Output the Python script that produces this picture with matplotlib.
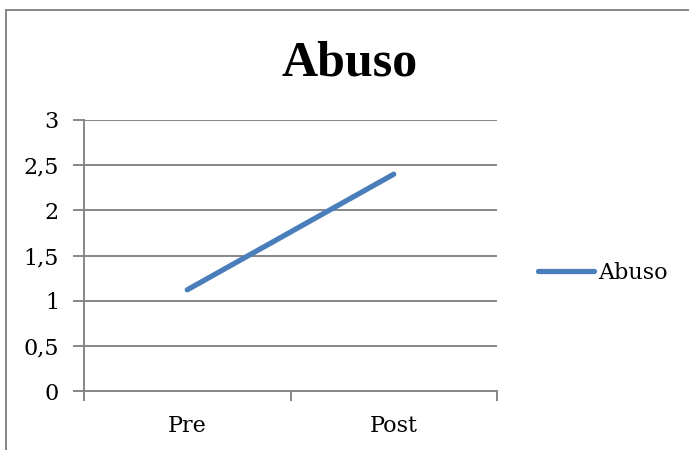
import matplotlib
matplotlib.use("Agg")
import matplotlib.pyplot as plt
from matplotlib.lines import Line2D
from matplotlib.ticker import FixedLocator, FuncFormatter

categories = ["Pre", "Post"]
values = [1.12, 2.40]
series_name = "Abuso"
title = "Abuso"
y_ticks = [0, 0.5, 1, 1.5, 2, 2.5, 3]

W, H = 689, 450
fig = plt.figure(figsize=(W / 100, H / 100), dpi=100)
fig.patch.set_facecolor("white")

grid_c = "#878787"
line_c = "#4A7EBB"
tick_font = "DejaVu Serif"
fs = 16

# chart area border (left and top edges visible)
fig.add_artist(Line2D([6 / W, 6 / W], [0, 1 - 10 / H], transform=fig.transFigure, color=grid_c, lw=1.4))
fig.add_artist(Line2D([6 / W, 1], [1 - 10 / H, 1 - 10 / H], transform=fig.transFigure, color=grid_c, lw=1.4))

ax = fig.add_axes([84 / W, 1 - 391 / H, (497 - 84) / W, (391 - 120) / H])
x = list(range(len(categories)))
ax.plot(x, values, color=line_c, lw=3.8, solid_capstyle="round", label=series_name)

ax.set_xlim(-0.5, len(categories) - 0.5)
ax.set_ylim(0, 3)
ax.yaxis.set_major_locator(FixedLocator(y_ticks))
ax.yaxis.set_major_formatter(FuncFormatter(lambda v, p: ("%g" % v).replace(".", ",")))
ax.grid(axis="y", color=grid_c, lw=1.4)
ax.set_axisbelow(True)

ax.set_xticks(x)
ax.set_xticklabels(categories)
ax.set_xticks([i - 0.5 for i in range(len(categories) + 1)], minor=True)
ax.tick_params(axis="x", which="major", length=0, pad=17)
ax.tick_params(axis="x", which="minor", length=7, color=grid_c, width=1.4, direction="out")
ax.tick_params(axis="y", length=8, color=grid_c, width=1.4, pad=10)
for lab in ax.get_xticklabels() + ax.get_yticklabels():
    lab.set_fontfamily(tick_font)
    lab.set_fontsize(fs)

for s in ["top", "right"]:
    ax.spines[s].set_visible(False)
for s in ["left", "bottom"]:
    ax.spines[s].set_color(grid_c)
    ax.spines[s].set_linewidth(1.4)

fig.text(350 / W, 1 - 76 / H, title, ha="center", va="baseline",
         fontfamily="Liberation Serif", fontweight="bold", fontsize=36)

fig.legend(loc="center left", bbox_to_anchor=(538 / W, 1 - 273 / H), frameon=False,
           prop={"family": tick_font, "size": fs}, handlelength=2.5, handletextpad=0.2,
           borderpad=0, borderaxespad=0)

fig.savefig("out.png", dpi=100)
